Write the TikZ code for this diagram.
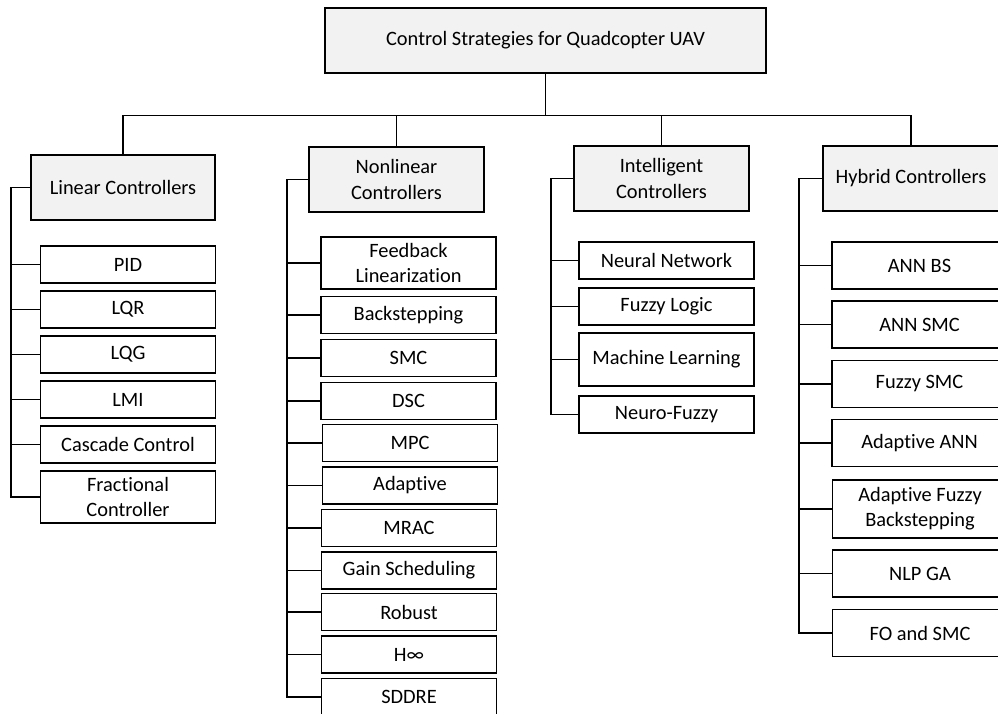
\documentclass[tikz,border=0pt]{standalone}
\usepackage{fontspec}
\setmainfont[Ligatures={NoCommon,NoRare,NoContextual}]{Carlito}
\usepackage{tikz}
\tikzset{every picture/.style={line width=0.75pt}}
\definecolor{catgray}{RGB}{242,242,242}
\newcommand{\ctlfont}{\fontsize{15.3}{18.8}\selectfont}
\tikzset{
  rootbox/.style={draw, fill=catgray, align=center, inner sep=0pt, minimum width=330.75pt, minimum height=48.75pt, font=\ctlfont},
  catbox/.style={draw, fill=catgray, align=center, inner sep=0pt, minimum width=131.25pt, minimum height=48.75pt, font=\ctlfont},
  leafbox/.style={draw, fill=white, align=center, inner sep=0pt, minimum width=131.25pt, minimum height=27.75pt, font=\ctlfont},
}

\begin{document}
\begin{tikzpicture}[x=0.75pt,y=0.75pt,yscale=-1,xscale=1,line width=1pt]
\useasboundingbox (0,0) rectangle (998,713);
\clip (0,0) rectangle (998,713);

%Shape: Root [id:root]
\node [rootbox] (root) at (545.5,40.5) {Control Strategies for Quadcopter UAV};

%Shape: Categories
\node [catbox, minimum width=138pt] (lin) at (123,187.5) {Linear Controllers};
\node [catbox] (nonl) at (396.5,179.5) {Nonlinear\\Controllers};
\node [catbox] (intel) at (661.5,178.5) {Intelligent\\Controllers};
\node [catbox, minimum width=132pt] (hyb) at (911,178.5) {Hybrid Controllers};

%Straight Lines: root to categories
\draw (root.south) -- ++(0,42) coordinate (bus);
\draw (lin.north) |- (bus) -| (hyb.north);
\draw (nonl.north) -- (nonl.north |- bus);
\draw (intel.north) -- (intel.north |- bus);

%Shape: Linear children
\node [leafbox] (lin1) at (128,264.5) {PID};
\node [leafbox] (lin2) at (128,309.5) {LQR};
\node [leafbox] (lin3) at (128,354.5) {LQG};
\node [leafbox] (lin4) at (128,399.5) {LMI};
\node [leafbox] (lin5) at (128,444.5) {Cascade Control};
\node [leafbox, minimum height=39pt] (lin6) at (128,497) {Fractional\\Controller};

%Straight Lines: linear side bar
\coordinate (linbar) at (11,187.5);
\draw (lin.west) -- (linbar) |- (lin6.west);
\draw (linbar |- lin1.west) -- (lin1.west);
\draw (linbar |- lin2.west) -- (lin2.west);
\draw (linbar |- lin3.west) -- (lin3.west);
\draw (linbar |- lin4.west) -- (lin4.west);
\draw (linbar |- lin5.west) -- (lin5.west);

%Shape: Nonlinear children
\node [leafbox, minimum height=39pt] (nonl1) at (408.5,263) {Feedback\\Linearization};
\node [leafbox] (nonl2) at (408.5,315) {Backstepping};
\node [leafbox] (nonl3) at (408.5,358) {SMC};
\node [leafbox] (nonl4) at (408.5,401) {DSC};
\node [leafbox] (nonl5) at (410,443) {MPC};
\node [leafbox] (nonl6) at (410,485.5) {Adaptive};
\node [leafbox] (nonl7) at (409,528) {MRAC};
\node [leafbox] (nonl8) at (409,570.5) {Gain Scheduling};
\node [leafbox] (nonl9) at (409,612) {Robust};
\node [leafbox] (nonl10) at (409,654.5) {H∞};
\node [leafbox] (nonl11) at (409,697) {SDDRE};

%Straight Lines: nonlinear side bar
\coordinate (nonlbar) at (287,179.5);
\draw (nonl.west) -- (nonlbar) |- (nonl11.west);
\draw (nonlbar |- nonl1.west) -- (nonl1.west);
\draw (nonlbar |- nonl2.west) -- (nonl2.west);
\draw (nonlbar |- nonl3.west) -- (nonl3.west);
\draw (nonlbar |- nonl4.west) -- (nonl4.west);
\draw (nonlbar |- nonl5.west) -- (nonl5.west);
\draw (nonlbar |- nonl6.west) -- (nonl6.west);
\draw (nonlbar |- nonl7.west) -- (nonl7.west);
\draw (nonlbar |- nonl8.west) -- (nonl8.west);
\draw (nonlbar |- nonl9.west) -- (nonl9.west);
\draw (nonlbar |- nonl10.west) -- (nonl10.west);

%Shape: Intelligent children
\node [leafbox] (intel1) at (666.5,260.5) {Neural Network};
\node [leafbox] (intel2) at (666.5,306.5) {Fuzzy Logic};
\node [leafbox, minimum height=39.75pt] (intel3) at (666.5,359.5) {Machine Learning};
\node [leafbox] (intel4) at (666.5,414.5) {Neuro-Fuzzy};

%Straight Lines: intelligent side bar
\coordinate (intelbar) at (551,178.5);
\draw (intel.west) -- (intelbar) |- (intel4.west);
\draw (intelbar |- intel1.west) -- (intel1.west);
\draw (intelbar |- intel2.west) -- (intel2.west);
\draw (intelbar |- intel3.west) -- (intel3.west);

%Shape: Hybrid children
\node [leafbox, minimum height=35.25pt] (hyb1) at (919.5,265.5) {ANN BS};
\node [leafbox, minimum height=35.25pt] (hyb2) at (919.5,324.5) {ANN SMC};
\node [leafbox, minimum height=35.25pt] (hyb3) at (919.5,384) {Fuzzy SMC};
\node [leafbox, minimum height=35.25pt] (hyb4) at (919.5,443) {Adaptive ANN};
\node [leafbox, minimum height=43.5pt] (hyb5) at (920,509) {Adaptive Fuzzy\\Backstepping};
\node [leafbox, minimum height=35.25pt] (hyb6) at (920,573.5) {NLP GA};
\node [leafbox, minimum height=35.25pt] (hyb7) at (920,633) {FO and SMC};

%Straight Lines: hybrid side bar
\coordinate (hybbar) at (799,178.5);
\draw (hyb.west) -- (hybbar) |- (hyb7.west);
\draw (hybbar |- hyb1.west) -- (hyb1.west);
\draw (hybbar |- hyb2.west) -- (hyb2.west);
\draw (hybbar |- hyb3.west) -- (hyb3.west);
\draw (hybbar |- hyb4.west) -- (hyb4.west);
\draw (hybbar |- hyb5.west) -- (hyb5.west);
\draw (hybbar |- hyb6.west) -- (hyb6.west);

\end{tikzpicture}
\end{document}
